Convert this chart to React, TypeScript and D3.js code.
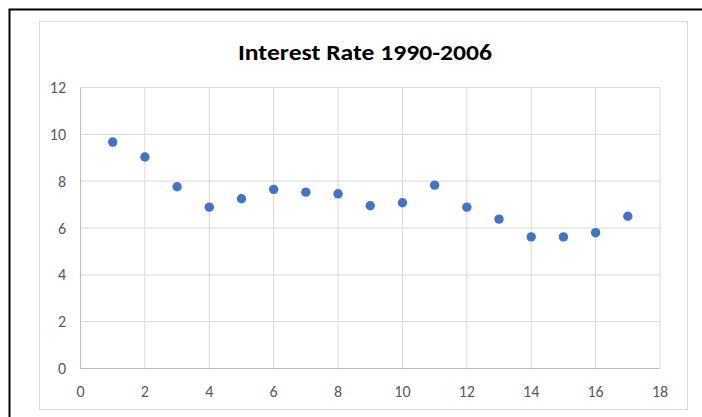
import * as React from 'react';
import * as d3 from 'd3';

// x = year index (1 = 1990), y = interest rate %
const years = [1, 2, 3, 4, 5, 6, 7, 8, 9, 10, 11, 12, 13, 14, 15, 16, 17];
const rates = [9.67, 9.03, 7.76, 6.89, 7.25, 7.65, 7.53, 7.46, 6.95, 7.08, 7.83, 6.89, 6.38, 5.62, 5.62, 5.8, 6.5];
const xTicks = [0, 2, 4, 6, 8, 10, 12, 14, 16, 18];
const yTicks = [0, 2, 4, 6, 8, 10, 12];
const title = 'Interest Rate 1990-2006';

const W = 702;
const H = 417;
const plot = { left: 80.5, right: 660, top: 87.5, bottom: 368.5 };

export default function App() {
  const x = d3.scaleLinear().domain([0, 18]).range([plot.left, plot.right]);
  const y = d3.scaleLinear().domain([0, 12]).range([plot.bottom, plot.top]);
  const font = "Carlito, Calibri, 'Liberation Sans', sans-serif";

  return (
    <svg
      width={W}
      height={H}
      style={{ position: 'absolute', left: 0, top: 0, background: '#fff' }}
    >
      {/* outer black frame (runs off the right/bottom edge) */}
      <rect x={9.5} y={9.5} width={900} height={900} fill="#fff" stroke="#000" strokeWidth={2} />
      {/* chart area */}
      <rect x={39.5} y={21.5} width={648} height={388} fill="#fff" stroke="#d9d9d9" strokeWidth={1} />

      <text
        x={365}
        y={60}
        textAnchor="middle"
        fontFamily={font}
        fontWeight="bold"
        fontSize={23}
        textLength={254}
        lengthAdjust="spacingAndGlyphs"
        fill="#000"
      >
        {title}
      </text>

      {/* gridlines */}
      {yTicks.map(t => (
        <line key={'gy' + t} x1={plot.left} x2={plot.right} y1={y(t)} y2={y(t)}
          stroke={t === 0 ? '#bfbfbf' : '#d9d9d9'} strokeWidth={1} />
      ))}
      {xTicks.map(t => (
        <line key={'gx' + t} x1={x(t)} x2={x(t)} y1={plot.top} y2={plot.bottom}
          stroke={t === 0 ? '#bfbfbf' : '#d9d9d9'} strokeWidth={1} />
      ))}

      {/* tick labels */}
      {yTicks.map(t => (
        <text key={'ly' + t} x={66} y={y(t)} dy="0.35em" textAnchor="end"
          fontFamily={font} fontSize={16} fill="#595959">{t}</text>
      ))}
      {xTicks.map(t => (
        <text key={'lx' + t} x={x(t)} y={391} dy="0.35em" textAnchor="middle"
          fontFamily={font} fontSize={16} fill="#595959">{t}</text>
      ))}

      {/* points */}
      {years.map((yr, i) => (
        <circle key={yr} cx={x(yr)} cy={y(rates[i])} r={4.7} fill="#4472c4" />
      ))}
    </svg>
  );
}
